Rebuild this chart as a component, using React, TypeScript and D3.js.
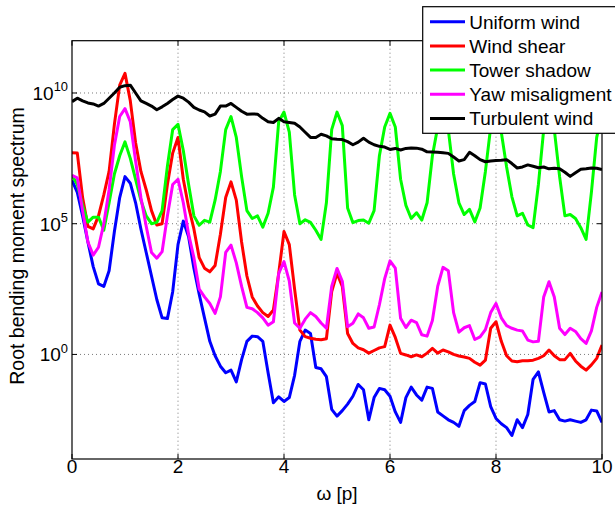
import React from "react";
import * as d3 from "d3";

// Frequency step of the spectrum samples (omega in multiples of rotor frequency p)
const OMEGA_STEP = 0.1;

// Series values given as log10 of the spectrum value, one per omega sample 0, 0.1, ... 10
const uniformWindLog10 = [
  6.66, 6.2, 5.3, 4.3, 3.36, 2.7, 2.6, 3.2, 4.7, 6.0,
  6.8, 6.55, 5.8, 4.8, 3.9, 3.0, 2.1, 1.4, 1.37, 2.4,
  4.2, 5.1, 4.5, 3.3, 2.3, 1.4, 0.5, -0.05, -0.45, -0.7,
  -0.6, -1.05, -0.2, 0.5, 0.7, 0.68, 0.5, -0.7, -1.85, -1.62,
  -1.8, -1.65, -0.8, 0.5, 0.93, 0.8, -0.5, -0.55, -0.85, -2.1,
  -2.36, -2.15, -1.9, -1.6, -1.15, -1.35, -2.5, -1.65, -1.3, -1.35,
  -1.6, -2.2, -2.6, -1.65, -1.25, -1.55, -1.75, -1.25, -1.3, -2.2,
  -2.35, -2.5, -2.6, -2.75, -2.15, -1.95, -1.8, -1.08, -1.13, -2.0,
  -2.45, -2.65, -2.8, -3.1, -2.5, -2.8, -2.3, -0.95, -0.67, -1.45,
  -2.2, -2.15, -2.5, -2.55, -2.5, -2.55, -2.6, -2.5, -2.13, -2.16,
  -2.6,
];

const windShearLog10 = [
  7.71, 7.7, 6.0, 4.9, 4.8, 5.3, 6.1, 7.0, 8.8, 10.3,
  10.75, 9.7, 8.1, 7.0, 6.3, 5.5, 4.95, 5.0, 6.5, 7.7,
  8.3, 6.7, 5.64, 4.8, 3.7, 3.3, 3.16, 3.4, 4.6, 6.0,
  6.6, 5.9, 4.3, 3.0, 2.2, 1.85, 1.6, 1.45, 1.7, 3.1,
  4.7, 4.2, 2.5, 0.93, 0.68, 0.62, 0.58, 0.56, 0.6, 2.4,
  3.1, 2.6, 0.8, 0.42, 0.25, 0.18, 0.05, 0.15, 0.25, 0.3,
  1.12, 0.65, 0.04, -0.02, -0.09, -0.02, -0.09, 0.05, 0.23, 0.05,
  0.17, 0.1, 0.0, -0.06, -0.1, -0.15, -0.3, -0.41, -0.22, 1.0,
  1.25, 0.5, -0.05, -0.25, -0.28, -0.24, -0.24, -0.22, -0.15, -0.05,
  0.17, -0.05, -0.2, -0.2, 0.04, -0.25, -0.45, -0.6, -0.4, -0.15,
  0.36,
];

const towerShadowLog10 = [
  6.85, 6.5, 5.7, 5.06, 5.25, 5.25, 4.75, 5.8, 6.9, 7.6,
  8.13, 7.5, 6.7, 5.9, 5.3, 5.0, 5.05, 5.5, 7.2, 8.6,
  8.8, 7.8, 6.5, 5.3, 4.94, 5.13, 5.06, 5.9, 7.0, 8.6,
  9.1, 8.3, 6.8, 5.5, 5.2, 5.3, 4.87, 5.4, 6.4, 8.9,
  9.27, 8.5, 6.1, 5.0, 5.15, 5.05, 4.75, 4.4, 5.8, 8.6,
  9.27, 8.75, 5.6, 5.04, 5.12, 5.14, 5.02, 5.5, 7.6, 8.7,
  9.22, 8.7, 6.7, 5.7, 5.2, 5.42, 5.14, 5.8, 7.6, 8.7,
  9.2, 8.6, 6.9, 5.8, 5.35, 5.55, 5.07, 5.6, 7.0, 8.7,
  9.2, 8.5, 7.17, 6.03, 5.3, 5.4, 4.95, 4.85, 6.5, 8.6,
  9.2, 8.6, 6.8, 5.3, 5.35, 5.2, 4.85, 4.4, 6.2, 8.3,
  9.2,
];

const yawMisalignmentLog10 = [
  6.85, 6.75, 5.5, 4.3, 3.8, 4.1, 5.0, 6.3, 8.0, 9.1,
  9.4, 8.9, 7.4, 6.0, 4.9, 3.9, 3.68, 3.93, 5.3, 6.5,
  6.7, 5.8, 4.6, 3.7, 2.5, 2.2, 1.95, 1.57, 2.2, 3.9,
  4.18, 3.5, 2.6, 1.8, 1.75, 1.6, 1.4, 1.12, 1.25, 3.1,
  3.55, 2.8, 1.2, 1.0, 1.35, 1.6, 1.45, 1.2, 1.0, 2.6,
  3.29, 2.8, 1.06, 1.19, 1.55, 1.4, 1.0, 1.05, 1.9, 2.9,
  3.58, 3.3, 1.38, 1.03, 1.31, 1.22, 0.75, 0.7, 1.3, 2.6,
  3.33, 3.2, 1.6, 0.85, 1.02, 1.1, 0.57, 0.67, 0.95, 1.6,
  1.95, 1.4, 1.1, 1.0, 0.93, 0.9, 0.55, 0.48, 0.5, 2.2,
  2.78, 2.2, 1.0, 0.76, 1.0, 0.88, 0.6, 0.42, 0.9, 1.8,
  2.39,
];

const turbulentWindLog10 = [
  9.67, 9.8, 9.7, 9.62, 9.58, 9.5, 9.6, 9.8, 10.0, 10.22,
  10.28, 10.3, 10.0, 9.7, 9.6, 9.5, 9.36, 9.47, 9.6, 9.75,
  9.88, 9.8, 9.65, 9.45, 9.35, 9.28, 9.12, 9.19, 9.5, 9.5,
  9.6, 9.45, 9.3, 9.19, 9.2, 9.19, 9.03, 8.9, 8.87, 9.03,
  8.9, 8.87, 8.84, 8.7, 8.5, 8.3, 8.3, 8.42, 8.36, 8.25,
  8.23, 8.22, 8.14, 8.02, 8.12, 8.27, 8.12, 8.02, 7.96, 7.93,
  7.84, 7.88, 7.82, 7.88, 7.9, 7.89, 7.85, 7.75, 7.74, 7.73,
  7.71, 7.69, 7.55, 7.4, 7.45, 7.73, 7.6, 7.45, 7.37, 7.4,
  7.42, 7.43, 7.45, 7.3, 7.13, 7.17, 7.25, 7.2, 7.14, 7.17,
  7.1, 7.12, 7.1, 6.97, 6.81, 6.95, 7.08, 7.1, 7.13, 7.12,
  7.07,
];

const seriesNames = [
  "Uniform wind",
  "Wind shear",
  "Tower shadow",
  "Yaw misaligment",
  "Turbulent wind",
];
const seriesData = [
  uniformWindLog10,
  windShearLog10,
  towerShadowLog10,
  yawMisalignmentLog10,
  turbulentWindLog10,
];

const xTicks = [0, 2, 4, 6, 8, 10];
const yTickExponents = [0, 5, 10];
const xDomain = [0, 10];
const yDomain = [1e-4, 1e12];

const seriesColors = ["#0000ff", "#ff0000", "#00ff00", "#ff00ff", "#000000"];

const W = 615;
const H = 511;
const FONT = "'Liberation Sans', Arial, Helvetica, sans-serif";
const FS = 19;

export default function App() {
  const left = 72;
  const right = 602;
  const top = 40.7;
  const bottom = 459;

  const x = d3.scaleLinear().domain(xDomain).range([left, right]);
  const y = d3.scaleLog().domain(yDomain).range([bottom, top]);

  const line = d3
    .line<number>()
    .x((_, i) => x(i * OMEGA_STEP))
    .y((e) => y(Math.pow(10, e)));

  const tickLen = 5;

  const legendX = 422.7;
  const legendY = 6.7;
  const legendW = 200;
  const legendH = 126.6;
  const rowH = 24.2;
  const firstRow = 21.7;

  return (
    <svg
      width={W}
      height={H}
      viewBox={`0 0 ${W} ${H}`}
      style={{ position: "absolute", left: 0, top: 0, background: "#fff" }}
      fontFamily={FONT}
    >
      <rect x={0} y={0} width={W} height={H} fill="#fff" />
      <rect x={left} y={top} width={right - left} height={bottom - top} fill="#fff" />

      {/* grid */}
      <g stroke="#7a7a7a" strokeWidth={1} strokeDasharray="1,3">
        {xTicks
          .filter((t) => t !== xDomain[0] && t !== xDomain[1])
          .map((t) => (
            <line key={"gx" + t} x1={x(t)} x2={x(t)} y1={top} y2={bottom} />
          ))}
        {yTickExponents.map((e) => (
          <line key={"gy" + e} x1={left} x2={right} y1={y(Math.pow(10, e))} y2={y(Math.pow(10, e))} />
        ))}
      </g>

      {/* series */}
      <defs>
        <clipPath id="plotclip">
          <rect x={left} y={top} width={right - left} height={bottom - top} />
        </clipPath>
      </defs>
      <g clipPath="url(#plotclip)" fill="none" strokeWidth={3} strokeLinejoin="round">
        {seriesData.map((d, i) => (
          <path key={seriesNames[i]} d={line(d) || ""} stroke={seriesColors[i]} />
        ))}
      </g>

      {/* axes box */}
      <rect x={left} y={top} width={right - left} height={bottom - top} fill="none" stroke="#000" strokeWidth={1.2} />

      {/* ticks */}
      <g stroke="#000" strokeWidth={1}>
        {xTicks.map((t) => (
          <g key={"tx" + t}>
            <line x1={x(t)} x2={x(t)} y1={bottom} y2={bottom - tickLen} />
            <line x1={x(t)} x2={x(t)} y1={top} y2={top + tickLen} />
          </g>
        ))}
        {yTickExponents.map((e) => (
          <g key={"ty" + e}>
            <line x1={left} x2={left + tickLen} y1={y(Math.pow(10, e))} y2={y(Math.pow(10, e))} />
            <line x1={right} x2={right - tickLen} y1={y(Math.pow(10, e))} y2={y(Math.pow(10, e))} />
          </g>
        ))}
      </g>

      {/* tick labels */}
      <g fontSize={FS} fill="#000">
        {xTicks.map((t) => (
          <text key={"lx" + t} x={x(t)} y={bottom + 14} textAnchor="middle">
            {t}
          </text>
        ))}
        {yTickExponents.map((e) => (
          <text key={"ly" + e} x={left - 4} y={y(Math.pow(10, e)) + 7} textAnchor="end">
            10
            <tspan fontSize={FS * 0.68} dy={-8.5}>
              {e}
            </tspan>
          </text>
        ))}
      </g>

      {/* axis labels */}
      <text x={(left + right) / 2} y={500} textAnchor="middle" fontSize={FS}>
        ω [p]
      </text>
      <text
        transform={`translate(24, 246) rotate(-90)`}
        textAnchor="middle"
        fontSize={19.5}
      >
        Root bending moment spectrum
      </text>

      {/* legend */}
      <rect x={legendX} y={legendY} width={legendW} height={legendH} fill="#fff" stroke="#000" strokeWidth={1.2} />
      {seriesNames.map((name, i) => {
        const cy = firstRow + i * rowH;
        return (
          <g key={"lg" + name}>
            <line x1={430} x2={465} y1={cy} y2={cy} stroke={seriesColors[i]} strokeWidth={3} />
            <text x={469.3} y={cy + 6.8} fontSize={FS}>
              {name}
            </text>
          </g>
        );
      })}
    </svg>
  );
}
